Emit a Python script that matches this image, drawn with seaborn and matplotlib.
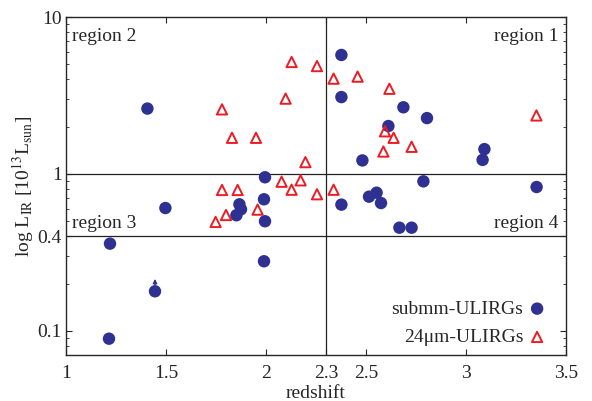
import numpy as np
import pandas as pd
import seaborn as sns
import matplotlib.pyplot as plt

# submm-ULIRGs
submm_z = [1.407, 1.995, 2.377, 2.377, 2.687, 2.805, 2.612, 2.482, 3.092, 3.083,
           2.787, 3.353, 2.377, 2.515, 2.553, 2.575, 2.667, 2.728, 1.497, 1.867,
           1.875, 1.852, 1.990, 1.995, 1.220, 1.990, 1.445, 1.215]
submm_L = [2.61, 0.953, 5.73, 3.09, 2.66, 2.27, 2.02, 1.22, 1.44, 1.23,
           0.898, 0.826, 0.638, 0.717, 0.760, 0.653, 0.455, 0.455, 0.607, 0.641,
           0.596, 0.546, 0.690, 0.500, 0.360, 0.278, 0.179, 0.0893]
submm_lowlim = [i == 26 for i in range(len(submm_z))]

# 24um-ULIRGs
mips_z = [2.128, 2.255, 2.338, 2.098, 1.780, 1.830, 1.950, 2.197, 2.078, 2.173,
          1.780, 1.858, 2.128, 2.255, 2.338, 2.458, 2.617, 3.352, 2.595, 2.638,
          2.728, 2.587, 1.748, 1.800, 1.958]
mips_L = [5.17, 4.87, 4.05, 3.02, 2.58, 1.70, 1.70, 1.19, 0.893, 0.911,
          0.791, 0.791, 0.794, 0.743, 0.794, 4.17, 3.49, 2.36, 1.87, 1.70,
          1.49, 1.39, 0.495, 0.548, 0.593]

xticks = [1, 1.5, 2, 2.3, 2.5, 3, 3.5]
yticks = [0.1, 0.4, 1, 10]
ytick_labels = ['0.1', '0.4', '1', '10']

blue = '#2e3192'
red = '#ed1c24'

sns.set_style('ticks')
plt.rcParams['font.family'] = ['Liberation Serif', 'DejaVu Serif']
plt.rcParams['mathtext.fontset'] = 'stix'

fig = plt.figure(figsize=(5.92, 4.01), dpi=100)
ax = fig.add_axes([66/592, 1-355/401, 500/592, 338/401])

sub = pd.DataFrame({'z': submm_z, 'L': submm_L})
mip = pd.DataFrame({'z': mips_z, 'L': mips_L})

sns.scatterplot(data=sub, x='z', y='L', ax=ax, color=blue, marker='o', s=80,
                edgecolor='none', label='submm-ULIRGs', zorder=3)
sns.scatterplot(data=mip, x='z', y='L', ax=ax, marker='^', s=55,
                facecolor='none', edgecolor=red, linewidth=1.4,
                label='24μm-ULIRGs', zorder=3)

# lower limit arrow
for z, L, lim in zip(submm_z, submm_L, submm_lowlim):
    if lim:
        ax.annotate('', xy=(z, L * 1.25), xytext=(z, L * 1.04),
                    arrowprops=dict(arrowstyle='-|>', color=blue, lw=1,
                                    mutation_scale=6))

ax.axvline(2.3, color='#222222', lw=0.9, zorder=1)
ax.axhline(1, color='#222222', lw=0.9, zorder=1)
ax.axhline(0.4, color='#222222', lw=0.9, zorder=1)

ax.set_yscale('log')
ax.set_xlim(1, 3.5)
ax.set_ylim(0.0703, 10)
ax.set_xticks(xticks)
ax.set_xticklabels([('%g' % t) for t in xticks])
ax.set_yticks(yticks)
ax.set_yticklabels(ytick_labels)
ax.tick_params(which='both', direction='in', top=True, right=True, labelsize=14)
ax.tick_params(axis='x', pad=7)
ax.tick_params(axis='y', pad=3)
ax.tick_params(which='major', length=4)
ax.tick_params(which='minor', length=2.5)
for s in ax.spines.values():
    s.set_linewidth(1.0)

ax.set_xlabel('redshift', fontsize=14, labelpad=2)
ax.set_ylabel(r'log L$_{\rm IR}$ [10$^{13}$L$_{\rm sun}$]', fontsize=14, labelpad=1)

ax.text(0.012, 0.929, 'region 2', transform=ax.transAxes, fontsize=14, va='baseline', ha='left')
ax.text(0.984, 0.929, 'region 1', transform=ax.transAxes, fontsize=14, va='baseline', ha='right')
ax.text(0.012, 0.376, 'region 3', transform=ax.transAxes, fontsize=14, va='baseline', ha='left')
ax.text(0.984, 0.376, 'region 4', transform=ax.transAxes, fontsize=14, va='baseline', ha='right')

leg = ax.legend(loc='lower right', bbox_to_anchor=(0.985, -0.008), frameon=False,
                markerfirst=False, fontsize=14, handletextpad=0.2,
                borderaxespad=0.2, labelspacing=0.55, handlelength=1.0)

fig.savefig('out.png', dpi=100)
